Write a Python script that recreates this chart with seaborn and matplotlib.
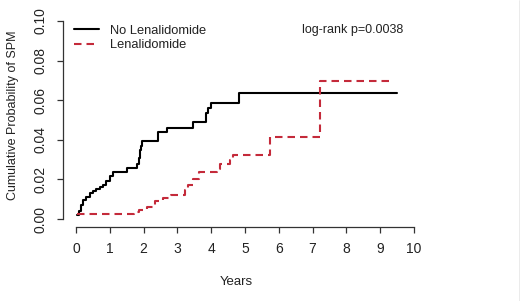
import pandas as pd
import matplotlib
matplotlib.use("Agg")
import matplotlib.pyplot as plt
from matplotlib.lines import Line2D
import seaborn as sns

# step curves (time in years, cumulative probability after step)
no_len_time = [0.03, 0.08, 0.14, 0.22, 0.30, 0.41, 0.51, 0.60, 0.71, 0.80, 0.90, 1.00,
               1.10, 1.15, 1.50, 1.80, 1.86, 1.88, 1.91, 1.94, 2.44, 2.68, 3.45, 3.84,
               3.91, 3.98, 4.81, 9.49]
no_len_prob = [0.002, 0.004, 0.007, 0.0097, 0.011, 0.013, 0.014, 0.015, 0.016, 0.0174,
               0.019, 0.0217, 0.0236, 0.024, 0.026, 0.0277, 0.031, 0.035, 0.037, 0.0396,
               0.0439, 0.046, 0.049, 0.0535, 0.056, 0.0585, 0.0634, 0.0634]

len_time = [0.03, 1.72, 1.85, 2.09, 2.34, 2.58, 2.80, 3.22, 3.30, 3.45, 3.65, 4.16,
            4.26, 4.55, 4.65, 5.73, 7.22, 9.35]
len_prob = [0.0025, 0.0035, 0.0045, 0.0063, 0.0089, 0.0106, 0.0121, 0.0145, 0.017,
            0.020, 0.0237, 0.0255, 0.0277, 0.030, 0.0325, 0.0414, 0.0699, 0.0699]

groups = ["No Lenalidomide", "Lenalidomide"]
x_ticks = list(range(0, 11))
y_ticks = [0.00, 0.02, 0.04, 0.06, 0.08, 0.10]
pvalue_text = "log-rank p=0.0038"

df = pd.concat([
    pd.DataFrame({"time": no_len_time, "prob": no_len_prob, "group": groups[0]}),
    pd.DataFrame({"time": len_time, "prob": len_prob, "group": groups[1]}),
])

sns.set_style("white")
plt.rcParams["font.family"] = ["Liberation Sans", "DejaVu Sans"]
txt = "#222222"
red = "#c42a3a"
fs = 9
dash = (3.6, 2.4)

fig = plt.figure(figsize=(5.2, 3.01), dpi=100)
ax = fig.add_axes([62.5 / 520, 1 - 227 / 301, 365 / 520, 214 / 301])

sns.lineplot(data=df, x="time", y="prob", hue="group", style="group",
             hue_order=groups, style_order=groups,
             palette={groups[0]: "black", groups[1]: red},
             dashes={groups[0]: "", groups[1]: dash},
             drawstyle="steps-post", estimator=None, sort=False,
             linewidth=1.5, legend=False, ax=ax)

ax.set_xlim(-0.4, 10.4)
ax.set_ylim(-0.004, 0.104)
ax.set_xticks(x_ticks)
ax.set_xticklabels([str(t) for t in x_ticks])
ax.set_yticks(y_ticks)
ax.set_yticklabels([f"{t:.2f}" for t in y_ticks], rotation=90, va="center")
ax.set_xlabel("")
ax.set_ylabel("")

for s in ["top", "right"]:
    ax.spines[s].set_visible(False)
ax.spines["left"].set_bounds(0, 0.10)
ax.spines["bottom"].set_bounds(0, 10)
for s in ["left", "bottom"]:
    ax.spines[s].set_color("#333333")
    ax.spines[s].set_linewidth(0.9)
ax.tick_params(axis="both", direction="out", length=4, width=0.9, color="#333333",
               labelsize=fs + 1, labelcolor=txt, bottom=True, left=True)
ax.tick_params(axis="x", pad=6.5)
ax.tick_params(axis="y", pad=7)

handles = [Line2D([], [], color="black", lw=1.5),
           Line2D([], [], color=red, lw=1.5, dashes=dash)]
leg = ax.legend(handles, groups, loc="upper left",
                bbox_to_anchor=(74 / 520, 1 - 24.5 / 301), bbox_transform=fig.transFigure,
                frameon=False, fontsize=fs + 0.3, handlelength=1.9, handletextpad=0.85,
                labelspacing=0.2, borderpad=0, borderaxespad=0)
for t in leg.get_texts():
    t.set_color(txt)

fig.text(353 / 520, 1 - 30 / 301, pvalue_text, ha="center", va="center",
         fontsize=fs, color=txt)
fig.text(236 / 520, 1 - 282 / 301, "Years", ha="center", va="center",
         fontsize=fs + 0.5, color=txt)
fig.text(13 / 520, 1 - 115 / 301, "Cumulative Probability of SPM", ha="center",
         va="center", rotation=90, fontsize=fs, color=txt)

# thin frame edge on the right, as in the source image
fig.add_artist(Line2D([519.5 / 520, 519.5 / 520], [0, 1], transform=fig.transFigure,
                      color="#999999", lw=1))

fig.savefig("out.png", dpi=100)
